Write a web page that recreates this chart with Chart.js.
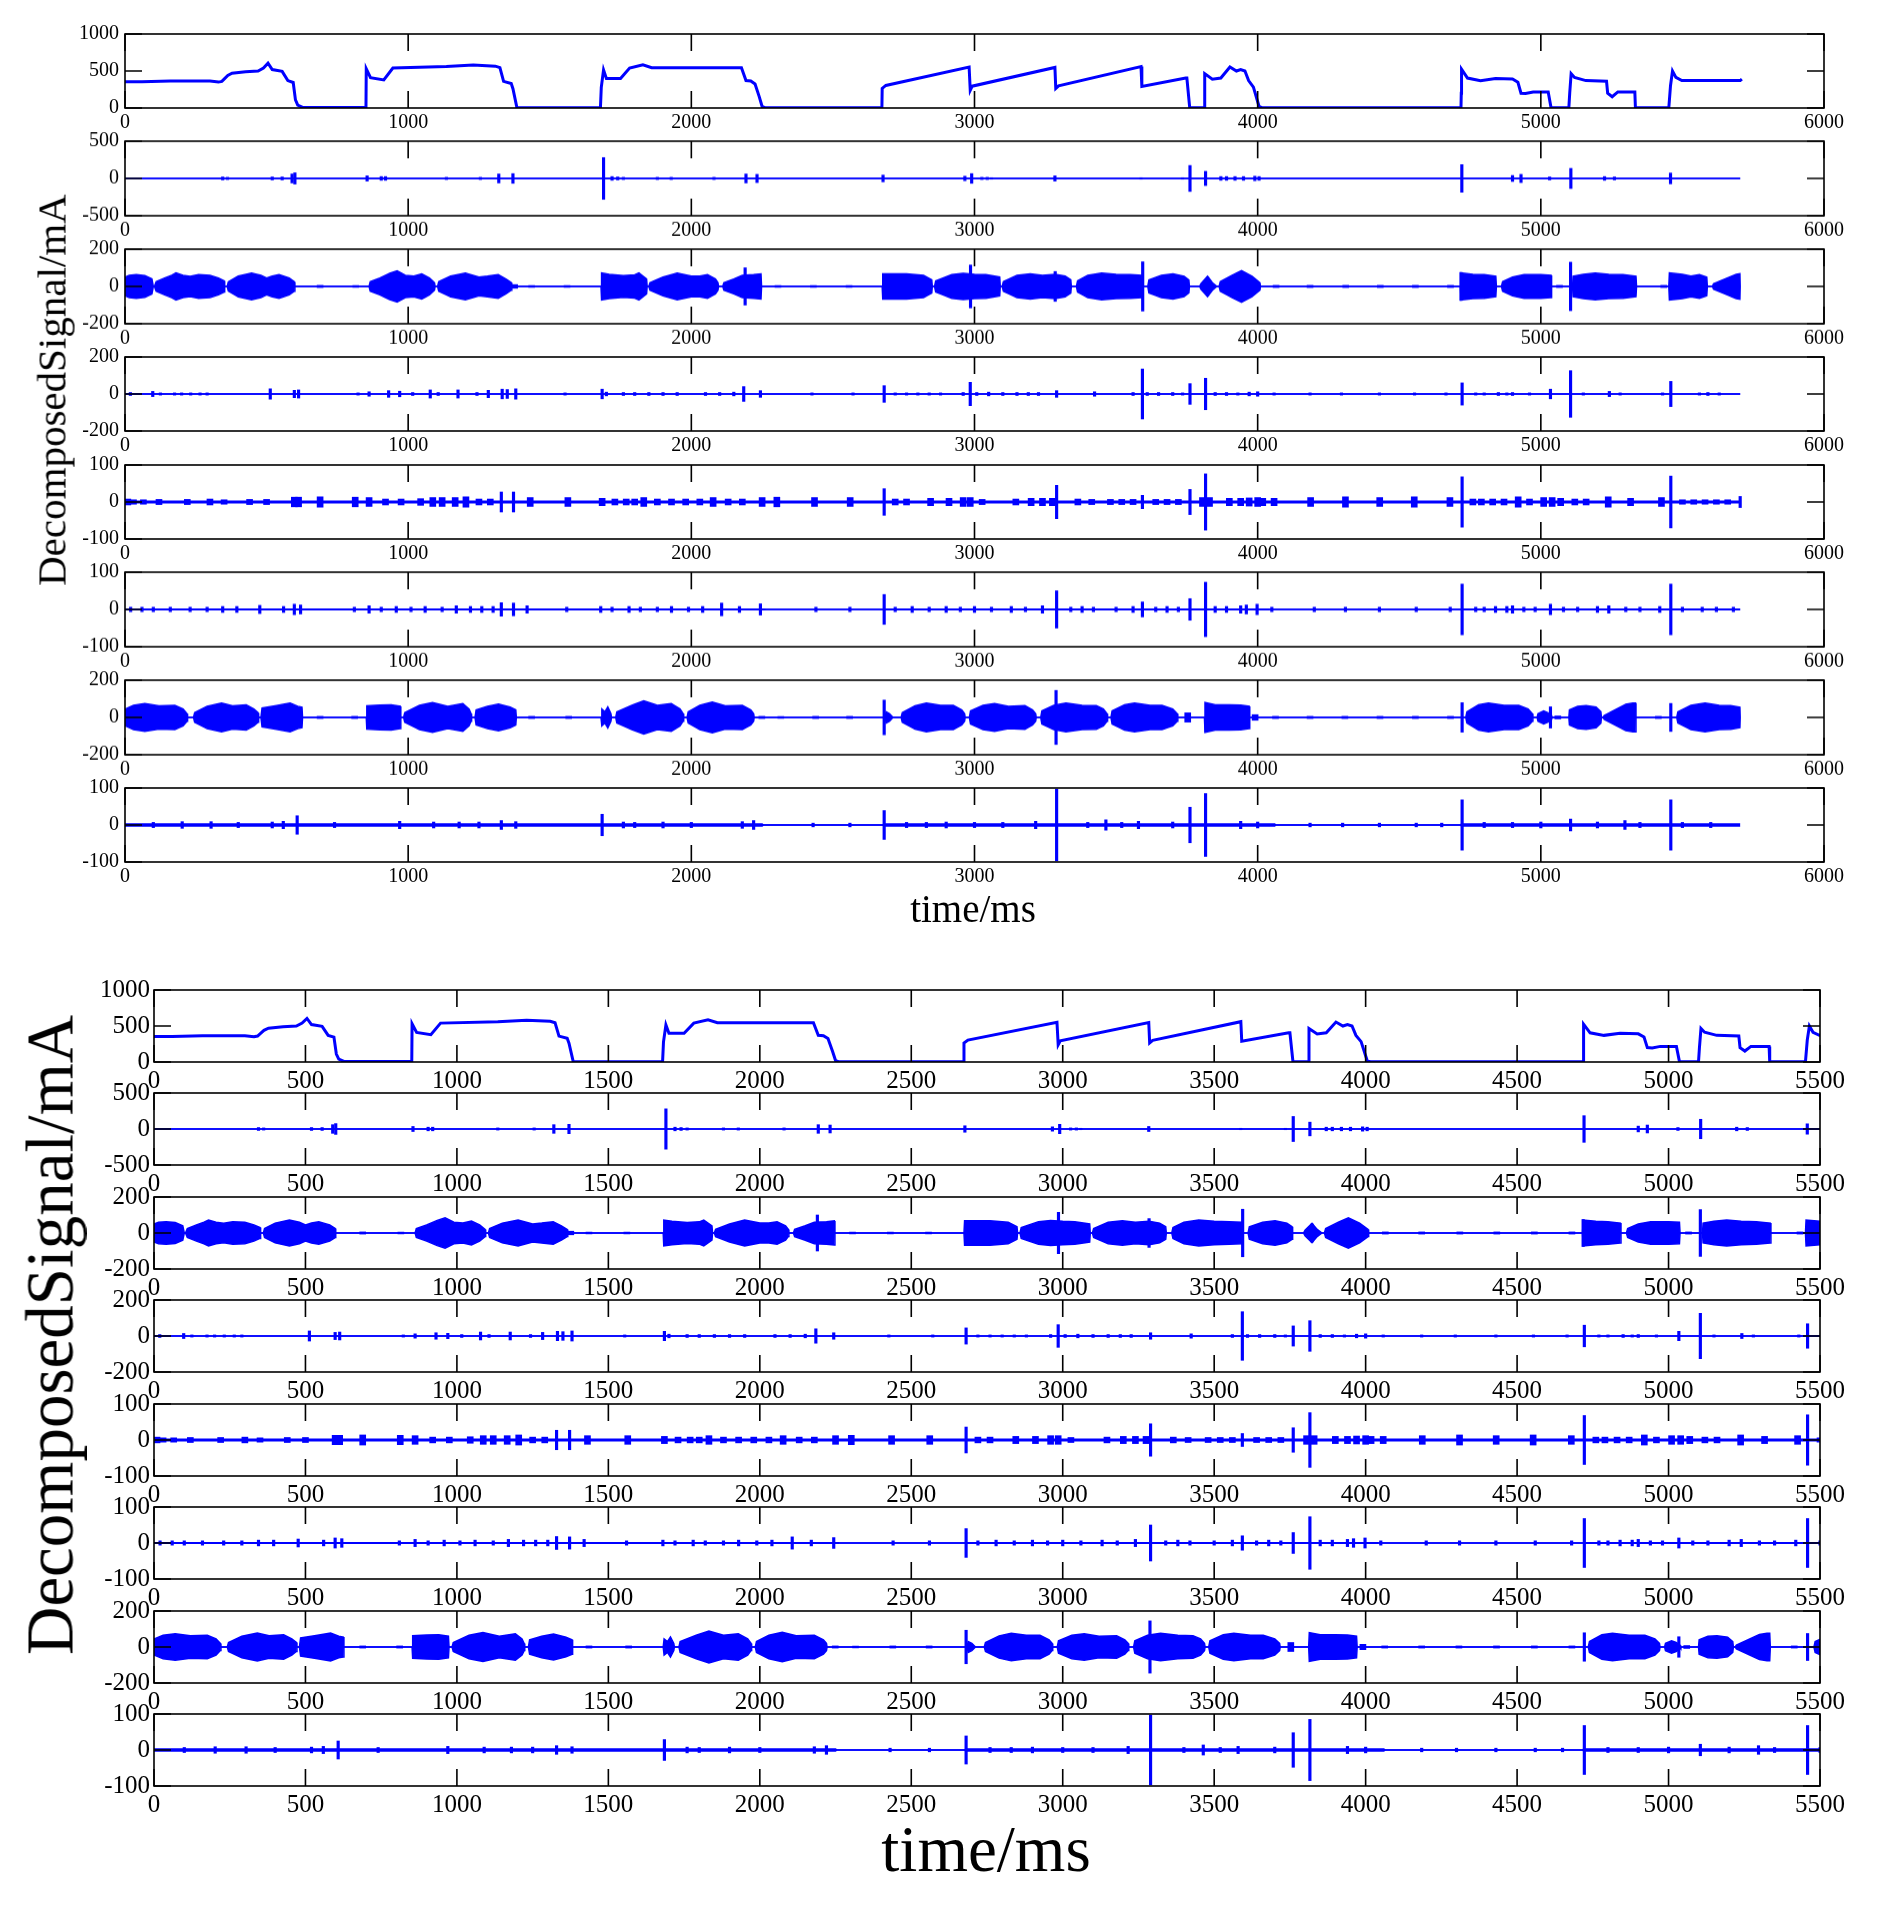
<!DOCTYPE html>
<html>
<head>
<meta charset="utf-8">
<script src="https://cdn.jsdelivr.net/npm/chart.js@4.4.1/dist/chart.umd.min.js"></script>
<style>
  body { margin: 0; background: #fff; }
  #page { position: relative; width: 1890px; height: 1907px; overflow: hidden; }
  canvas { position: absolute; }
  .lbl { position: absolute; font-family: "Liberation Serif", "Times New Roman", serif; color: #000; white-space: nowrap; line-height: 1; }
</style>
</head>
<body>
<div id="page"></div>
<script>
// raw current signal, [time ms, mA]
const signal = [[0,355],[60,355],[160,365],[300,365],[330,350],[342,360],[350,390],[363,440],[378,470],[426,490],[470,500],
  [489,540],[505,605],[520,520],[555,495],[575,370],[594,345],[602,110],[610,40],[627,8],[851,8],[852,530],[867,410],
  [914,380],[946,540],[1135,560],[1230,580],[1308,565],[1324,545],[1337,360],[1364,330],[1370,260],[1384,5],[1679,5],
  [1682,280],[1690,515],[1700,400],[1750,400],[1782,540],[1829,585],[1860,545],[2177,545],[2193,370],[2210,365],
  [2225,325],[2240,150],[2250,20],[2260,5],[2673,5],[2674,265],[2687,305],[2981,552],[2985,240],[2992,295],[3284,548],
  [3287,265],[3297,300],[3588,560],[3591,290],[3746,405],[3750,405],[3760,5],[3812,5],[3813,465],[3840,390],[3870,405],
  [3902,555],[3925,500],[3940,520],[3955,500],[3968,370],[3985,283],[4005,20],[4015,5],[4718,5],[4719,200],[4720,525],
  [4741,405],[4787,370],[4840,400],[4900,391],[4919,348],[4930,200],[4946,196],[4973,217],[5026,217],[5036,5],[5099,5],
  [5102,200],[5107,465],[5119,413],[5159,370],[5232,361],[5236,200],[5252,152],[5272,217],[5332,217],[5334,5],[5452,5],
  [5458,305],[5465,500],[5477,413],[5498,370],[5704,370],[5710,390]];

// decomposed components: envelope [t, amplitude], spikes [t, amplitude], blobs [t, amplitude]
const env2 = [[0,0],[5704,0]];
const spk2 = [[345,20],[362,15],[520,20],[555,20],[590,60],[600,75],[855,35],[905,25],[920,25],[1135,15],[1255,15],
  [1320,60],[1370,65],[1690,280],[1720,25],[1740,20],[1760,15],[1880,15],[1929,15],[2080,15],[2193,60],[2232,55],
  [2677,45],[2966,30],[2990,65],[3026,15],[3045,15],[3060,10],[3284,35],[3588,10],[3735,10],[3761,174],[3816,95],
  [3870,25],[3890,25],[3920,25],[3950,25],[3990,30],[4005,25],[4721,185],[4900,40],[4930,55],[5031,20],[5106,135],
  [5225,25],[5260,20],[5458,72]];

const env3 = [[0,0],[1,50],[15,60],[40,63],[70,58],[95,40],[100,0],
  [104,0],[110,25],[140,45],[165,60],[180,72],[205,60],[230,54],[260,63],[300,60],[330,45],[350,30],[352,0],
  [361,0],[365,25],[400,55],[447,72],[480,60],[500,45],[520,55],[544,63],[580,45],[598,25],[600,0],
  [862,0],[866,25],[900,45],[935,70],[961,84],[990,60],[1020,55],[1048,67],[1075,45],[1093,20],[1095,0],
  [1104,0],[1108,25],[1150,55],[1202,72],[1250,50],[1280,55],[1318,63],[1345,40],[1364,20],[1366,0],
  [1681,0],[1683,72],[1710,65],[1760,58],[1800,62],[1815,72],[1842,40],[1844,0],
  [1850,0],[1854,20],[1900,50],[1950,72],[2000,55],[2030,55],[2057,63],[2085,40],[2094,20],[2096,0],
  [2111,0],[2115,20],[2150,40],[2180,60],[2220,63],[2246,67],[2248,0],
  [2674,0],[2676,68],[2760,68],[2820,60],[2849,35],[2851,0],
  [2859,0],[2863,30],[2920,63],[2960,70],[3000,65],[3040,63],[3089,50],[3091,0],
  [3098,0],[3102,25],[3150,60],[3197,68],[3240,60],[3285,65],[3320,55],[3340,35],[3342,0],
  [3360,0],[3364,30],[3400,60],[3449,72],[3500,65],[3550,63],[3590,60],[3594,0],
  [3612,0],[3616,35],[3660,60],[3701,68],[3740,55],[3757,35],[3759,0],
  [3795,0],[3800,15],[3823,54],[3840,20],[3856,0],
  [3864,0],[3868,25],[3910,60],[3943,84],[3980,55],[4008,20],[4010,0],
  [4716,0],[4718,72],[4760,65],[4800,63],[4841,55],[4843,0],
  [4861,0],[4865,25],[4900,50],[4941,63],[5000,63],[5036,60],[5038,0],
  [5112,0],[5114,55],[5150,65],[5192,72],[5240,65],[5290,63],[5336,55],[5338,0],
  [5452,0],[5454,72],[5500,65],[5530,55],[5560,63],[5586,50],[5588,0],
  [5606,0],[5610,15],[5650,40],[5690,65],[5703,68],[5704,0]];
const spk3 = [[2190,100],[2986,115],[3285,80],[3594,132],[3823,50],[4718,75],[5105,130]];
const blob3 = [[689,6],[815,5],[1376,10],[1436,5],[1561,5],[2306,5],[2431,5],[2557,5],[4065,6],[4185,6],[4311,6],
  [4433,6],[4557,6],[4681,6],[5066,6],[5434,6]];

const env4 = [[0,0],[5704,0]];
const spk4 = [[19,8],[98,14],[125,6],[175,6],[200,6],[232,6],[265,6],[290,6],[513,28],[598,20],[613,22],[823,6],
  [862,12],[931,18],[970,15],[1016,8],[1078,22],[1106,8],[1176,22],[1243,8],[1283,20],[1332,26],[1350,24],[1380,28],
  [1554,6],[1685,26],[1700,10],[1760,8],[1800,8],[1850,8],[1900,8],[1950,8],[2050,8],[2100,8],[2150,10],[2185,40],
  [2244,18],[2426,6],[2571,6],[2681,45],[2720,6],[2760,6],[2800,6],[2840,6],[2880,6],[2960,8],[2985,63],[3008,8],
  [3050,10],[3100,8],[3150,8],[3190,8],[3226,8],[3290,18],[3424,12],[3560,8],[3593,135],[3610,8],[3650,8],[3700,8],
  [3735,6],[3761,56],[3816,85],[3850,8],[3890,8],[3930,6],[3970,10],[4000,12],[4058,6],[4185,6],[4296,6],[4430,6],
  [4554,6],[4665,6],[4722,60],[4770,6],[4800,6],[4850,8],[4880,6],[4900,8],[4960,6],[5034,26],[5105,126],[5150,6],
  [5242,14],[5280,6],[5430,6],[5459,68],[5560,6],[5590,8],[5630,6]];

const env5 = [[0,2],[5704,2]];
const spk5 = [[1329,27],[1372,27],[2681,36],[3290,45],[3593,18],[3761,34],[3816,76],[4722,68],[5459,70],[5704,15]];
const blob5 = [[10,8],[30,6],[65,6],[120,7],[220,7],[300,8],[350,6],[440,7],[500,7],[598,13],[613,13],[689,14],
  [813,13],[862,12],[920,8],[975,8],[1044,9],[1087,12],[1120,12],[1166,12],[1204,14],[1250,8],[1290,8],[1431,12],
  [1564,12],[1685,10],[1730,8],[1770,8],[1800,8],[1832,12],[1880,8],[1930,8],[1980,8],[2030,8],[2077,12],[2130,8],
  [2180,8],[2250,12],[2302,13],[2435,12],[2561,12],[2720,8],[2760,8],[2845,10],[2910,10],[2960,12],[2985,12],
  [3027,7],[3146,8],[3200,10],[3240,10],[3275,10],[3365,8],[3414,7],[3480,7],[3520,7],[3560,7],[3640,7],[3680,7],
  [3720,7],[3805,12],[3830,12],[3900,10],[3940,10],[3970,11],[4000,12],[4018,10],[4058,10],[4187,12],[4310,14],
  [4431,12],[4553,14],[4679,12],[4760,8],[4790,8],[4830,8],[4870,8],[4920,14],[4960,8],[5010,12],[5040,12],
  [5070,10],[5120,8],[5160,8],[5238,14],[5317,10],[5426,12],[5500,6],[5540,6],[5580,6],[5620,6],[5660,6]];

const env6 = [[0,1],[2260,1],[2265,0],[2680,0],[2685,1],[4040,1],[4045,0],[4720,0],[4725,1],[5704,1]];
const spk6 = [[20,6],[60,6],[100,6],[160,6],[230,6],[290,6],[345,8],[395,8],[476,11],[560,8],[598,14],[620,12],
  [810,6],[862,10],[905,6],[958,8],[1010,6],[1060,8],[1120,6],[1170,10],[1220,8],[1260,8],[1300,8],[1329,18],
  [1372,17],[1420,10],[1560,6],[1680,8],[1720,6],[1780,8],[1820,6],[1880,6],[1930,8],[1990,6],[2040,8],[2107,17],
  [2170,8],[2244,15],[2440,6],[2560,6],[2681,40],[2720,6],[2780,8],[2840,6],[2900,8],[2950,6],[3000,8],[3060,6],
  [3130,8],[3180,6],[3240,10],[3290,50],[3340,6],[3380,8],[3420,6],[3500,6],[3560,8],[3593,20],[3640,6],[3680,8],
  [3720,6],[3761,29],[3816,73],[3850,8],[3890,8],[3940,10],[3960,12],[3998,14],[4050,6],[4200,6],[4310,6],[4430,6],
  [4560,6],[4680,6],[4722,68],[4770,6],[4800,6],[4840,8],[4880,8],[4900,10],[4940,6],[4980,6],[5034,14],[5080,6],
  [5130,6],[5200,8],[5240,10],[5300,6],[5350,6],[5420,8],[5459,68],[5500,6],[5570,6],[5620,6],[5680,6]];

const env7 = [[0,0],[1,45],[30,65],[70,74],[120,62],[176,65],[205,45],[219,20],[221,0],
  [242,0],[246,25],[290,60],[341,77],[380,62],[428,68],[455,45],[470,25],[472,0],
  [480,0],[484,50],[530,62],[583,77],[610,60],[625,55],[627,0],
  [852,0],[854,63],[900,66],[940,68],[972,60],[974,0],
  [984,0],[988,25],[1040,65],[1086,80],[1140,60],[1193,74],[1215,45],[1222,20],[1224,0],
  [1236,0],[1240,40],[1280,60],[1319,72],[1360,55],[1380,40],[1382,0],
  [1681,0],[1684,45],[1695,30],[1705,56],[1716,20],[1718,0],
  [1733,0],[1737,30],[1790,65],[1832,89],[1880,65],[1929,74],[1960,45],[1971,20],[1973,0],
  [1985,0],[1989,30],[2030,65],[2074,82],[2120,62],[2180,65],[2210,40],[2220,20],[2222,0],
  [2684,0],[2688,30],[2700,20],[2712,0],
  [2741,0],[2745,25],[2790,62],[2830,77],[2880,65],[2925,65],[2955,40],[2965,20],[2967,0],
  [2982,0],[2986,35],[3030,65],[3071,74],[3120,60],[3178,63],[3205,40],[3216,20],[3218,0],
  [3234,0],[3238,35],[3280,65],[3323,77],[3380,65],[3430,63],[3455,45],[3468,20],[3470,0],
  [3482,0],[3486,35],[3530,68],[3565,77],[3620,65],[3662,65],[3700,45],[3716,20],[3718,0],
  [3812,0],[3814,80],[3850,68],[3900,68],[3940,66],[3970,60],[3972,0],
  [4735,0],[4739,30],[4780,68],[4815,77],[4870,65],[4922,65],[4955,45],[4970,20],[4972,0],
  [4987,0],[4990,20],[5010,35],[5025,25],[5038,10],[5040,0],
  [5099,0],[5101,40],[5130,60],[5160,63],[5195,55],[5212,30],[5214,0],
  [5220,0],[5224,10],[5300,70],[5325,77],[5334,77],[5336,0],
  [5480,0],[5484,30],[5530,65],[5580,77],[5630,65],[5670,63],[5703,55],[5704,0]];
const spk7 = [[2681,93],[3288,145],[4722,79],[5034,57],[5459,75]];
const blob7 = [[689,6],[811,6],[1436,6],[1567,6],[2249,6],[2316,5],[2439,6],[2559,6],[3753,25],[3991,15],[4063,6],
  [4185,6],[4308,6],[4432,6],[4557,6],[4681,6],[5060,8],[5415,6]];

const env8 = [[0,3],[2250,3],[2255,0],[2675,0],[2680,3],[4060,3],[4065,0],[4715,0],[4720,3],[5704,3]];
const spk8 = [[100,7],[202,9],[304,9],[400,7],[520,8],[559,10],[608,25],[740,7],[970,10],[1090,8],[1180,8],[1250,8],
  [1329,12],[1380,9],[1685,29],[1760,8],[1800,7],[1900,8],[2000,7],[2180,9],[2220,12],[2430,5],[2560,5],[2681,39],
  [2760,7],[2830,7],[2900,8],[3000,7],[3100,7],[3216,10],[3290,97],[3400,7],[3464,14],[3520,7],[3579,10],[3700,8],
  [3761,48],[3816,85],[3940,10],[4000,8],[4185,5],[4300,5],[4430,5],[4560,5],[4650,5],[4722,68],[4800,7],[4900,7],
  [5000,8],[5105,16],[5200,8],[5297,12],[5350,7],[5459,68],[5500,7],[5600,7]];

// axis ranges per panel (panel 1 = raw current)
const yMin  = [0, -500, -200, -200, -100, -100, -200, -100];
const yMax  = [1000, 500, 200, 200, 100, 100, 200, 100];
const yStep = [500, 500, 200, 200, 100, 100, 200, 100];
const xMax  = [6000, 5500];
const xStep = [1000, 500];

const components = [
  null,
  {env: env2, spk: spk2, blob: []},
  {env: env3, spk: spk3, blob: blob3},
  {env: env4, spk: spk4, blob: []},
  {env: env5, spk: spk5, blob: blob5},
  {env: env6, spk: spk6, blob: []},
  {env: env7, spk: spk7, blob: blob7},
  {env: env8, spk: spk8, blob: []}
];

const BLUE = '#0000ff';
const SERIF = '"Liberation Serif", "Times New Roman", serif';

// layout of the two figure groups (pixels)
const groups = [
  {left: 125, width: 1699, top0: 31.7, step: 107.7, height: 76.7, font: 20, xPad: 3, yPad: 6},
  {left: 154, width: 1666, top0: 986.5, step: 103.5, height: 75, font: 25, xPad: 4, yPad: 4}
];

const TICK = 17;
const boxTicks = {
  id: 'boxTicks',
  afterDatasetsDraw(chart) {
    const {ctx, chartArea: a, scales: {x, y}} = chart;
    ctx.save();
    ctx.strokeStyle = '#000';
    ctx.lineWidth = 1.6;
    ctx.beginPath();
    x.ticks.forEach(t => {
      const px = x.getPixelForValue(t.value);
      ctx.moveTo(px, a.top); ctx.lineTo(px, a.top + TICK);
      ctx.moveTo(px, a.bottom); ctx.lineTo(px, a.bottom - TICK);
    });
    y.ticks.forEach(t => {
      const py = y.getPixelForValue(t.value);
      ctx.moveTo(a.left, py); ctx.lineTo(a.left + TICK, py);
      ctx.moveTo(a.right, py); ctx.lineTo(a.right - TICK, py);
    });
    ctx.stroke();
    ctx.strokeRect(a.left, a.top, a.right - a.left, a.bottom - a.top);
    ctx.restore();
  }
};

const page = document.getElementById('page');
const L = 80, PT = 16, PR = 40, B = 40;

function panel(g, gi, i) {
  const top = g.top0 + i * g.step;
  const cv = document.createElement('canvas');
  const W = L + g.width + PR, H = PT + g.height + B;
  cv.width = W; cv.height = H;
  cv.style.left = (g.left - L) + 'px';
  cv.style.top = (top - PT) + 'px';
  cv.style.width = W + 'px'; cv.style.height = H + 'px';
  page.appendChild(cv);

  let datasets;
  if (i === 0) {
    datasets = [{
      type: 'line', data: signal.map(([t, v]) => ({x: t, y: v})),
      borderColor: BLUE, borderWidth: 3, pointRadius: 0, tension: 0, fill: false
    }];
  } else {
    const c = components[i];
    datasets = [
      {type: 'line', data: c.env.map(([t, a]) => ({x: t, y: a})), borderColor: BLUE, backgroundColor: BLUE,
       borderWidth: 1.5, pointRadius: 0, tension: 0, fill: '+1'},
      {type: 'line', data: c.env.map(([t, a]) => ({x: t, y: -a})), borderColor: BLUE,
       borderWidth: 1.5, pointRadius: 0, tension: 0, fill: false},
      {type: 'bar', data: c.spk.map(([t, a]) => ({x: t, y: [-a, a]})), backgroundColor: BLUE,
       barThickness: 2.5, grouped: false, borderWidth: 0},
      {type: 'bar', data: c.blob.map(([t, a]) => ({x: t, y: [-a, a]})), backgroundColor: BLUE,
       barThickness: 6, grouped: false, borderWidth: 0}
    ];
  }

  const font = {family: SERIF, size: g.font};
  new Chart(cv, {
    type: 'line',
    data: {datasets},
    options: {
      responsive: false, animation: false, devicePixelRatio: 1,
      layout: {padding: {left: 0, top: PT, right: PR, bottom: 0}},
      plugins: {legend: {display: false}, tooltip: {enabled: false}},
      scales: {
        x: {
          type: 'linear', min: 0, max: xMax[gi], offset: false,
          grid: {display: false, drawTicks: false}, border: {display: false},
          ticks: {stepSize: xStep[gi], color: '#000', font, padding: g.xPad, maxRotation: 0,
                  autoSkip: false, callback: v => String(v)},
          afterFit: s => { s.height = B; }
        },
        y: {
          type: 'linear', min: yMin[i], max: yMax[i],
          grid: {display: false, drawTicks: false}, border: {display: false},
          ticks: {stepSize: yStep[i], color: '#000', font, padding: g.yPad, callback: v => String(v)},
          afterFit: s => { s.width = L; }
        }
      }
    },
    plugins: [boxTicks]
  });
}

groups.forEach((g, gi) => { for (let i = 0; i < 8; i++) panel(g, gi, i); });

function label(text, size, cx, cy, rotate) {
  const d = document.createElement('div');
  d.className = 'lbl';
  d.textContent = text;
  d.style.fontSize = size + 'px';
  d.style.left = cx + 'px';
  d.style.top = cy + 'px';
  d.style.transform = 'translate(-50%, -50%)' + (rotate ? ' rotate(-90deg)' : '');
  page.appendChild(d);
}
label('DecomposedSignal/mA', 41, 52, 390, true);
label('time/ms', 39, 973, 908, false);
label('DecomposedSignal/mA', 67, 50, 1335, true);
label('time/ms', 65, 986, 1849, false);
</script>
</body>
</html>
